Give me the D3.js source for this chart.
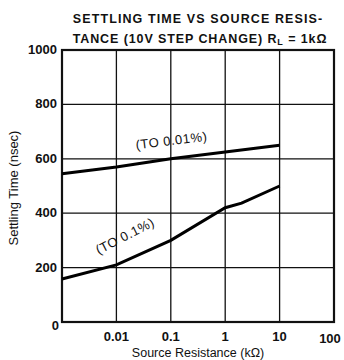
<!DOCTYPE html>
<html>
<head>
<meta charset="utf-8">
<script src="https://cdn.jsdelivr.net/npm/d3@7"></script>
<style>
  body { margin: 0; background: #fff; }
  svg { font-family: "Liberation Sans", Arial, sans-serif; }
</style>
</head>
<body>
<svg id="svg"></svg>
<script>
// data
var resistance = [0.001, 0.01, 0.1, 1, 10];
var settle001 = [545, 570, 600, 625, 650];      // to 0.01%
var res01 = [0.001, 0.01, 0.1, 1, 2, 10];
var settle01 = [158, 210, 300, 420, 437, 500];  // to 0.1%
var xTicks = [0.01, 0.1, 1, 10, 100];
var xTickLabels = ['0.01', '0.1', '1', '10', '100'];
var yTicks = [0, 200, 400, 600, 800, 1000];

var width = 344, height = 360;
var svg = d3.select('#svg').attr('width', width).attr('height', height);

var x = d3.scaleLog().domain([0.001, 100]).range([62, 334]);
var y = d3.scaleLinear().domain([0, 1000]).range([322, 50]);

// grid
var grid = svg.append('g').attr('stroke', '#111').attr('stroke-width', 1.3);
xTicks.forEach(function (t) {
  grid.append('line').attr('x1', x(t)).attr('x2', x(t)).attr('y1', y(0)).attr('y2', y(1000));
});
yTicks.forEach(function (t) {
  grid.append('line').attr('x1', x(0.001)).attr('x2', x(100)).attr('y1', y(t)).attr('y2', y(t));
});
svg.append('rect')
  .attr('x', x(0.001)).attr('y', y(1000))
  .attr('width', x(100) - x(0.001)).attr('height', y(0) - y(1000))
  .attr('fill', 'none').attr('stroke', '#111').attr('stroke-width', 2.2);

// tick labels
svg.selectAll('.yl').data(yTicks).enter().append('text')
  .attr('x', function (d) { return d === 0 ? 59 : 57; })
  .attr('y', function (d) { return y(d) + (d === 0 ? 8 : 4); })
  .attr('text-anchor', 'end')
  .attr('font-size', 13).attr('font-weight', 'bold').attr('fill', '#111')
  .text(function (d) { return d; });

svg.selectAll('.xl').data(xTicks).enter().append('text')
  .attr('x', function (d) { return x(d) - (d === 100 ? 4 : 0); })
  .attr('y', function (d) { return d === 100 ? 343 : 341; })
  .attr('text-anchor', 'middle')
  .attr('font-size', 13).attr('font-weight', 'bold').attr('fill', '#111')
  .text(function (d, i) { return xTickLabels[i]; });

// curves
var line1 = d3.line().x(function (d, i) { return x(resistance[i]); }).y(function (d) { return y(d); });
var line2 = d3.line().x(function (d, i) { return x(res01[i]); }).y(function (d) { return y(d); });
svg.append('path').attr('d', line1(settle001)).attr('fill', 'none').attr('stroke', '#000').attr('stroke-width', 3);
svg.append('path').attr('d', line2(settle01)).attr('fill', 'none').attr('stroke', '#000').attr('stroke-width', 3);

// curve labels
svg.append('text').attr('transform', 'translate(172,145) rotate(-7)')
  .attr('text-anchor', 'middle').attr('font-size', 13).attr('letter-spacing', 0.5).attr('fill', '#111')
  .text('(TO 0.01%)');
svg.append('text').attr('transform', 'translate(127,240) rotate(-27)')
  .attr('text-anchor', 'middle').attr('font-size', 13).attr('letter-spacing', 0.5).attr('fill', '#111')
  .text('(TO 0.1%)');

// title
svg.append('text').attr('x', 198).attr('y', 23).attr('text-anchor', 'middle')
  .attr('font-size', 12.5).attr('font-weight', 'bold').attr('letter-spacing', 1.1).attr('fill', '#111')
  .text('SETTLING TIME VS SOURCE RESIS-');
var t2 = svg.append('text').attr('x', 200).attr('y', 43).attr('text-anchor', 'middle')
  .attr('font-size', 12.5).attr('font-weight', 'bold').attr('letter-spacing', 0.9).attr('fill', '#111');
t2.append('tspan').text('TANCE (10V STEP CHANGE) R');
t2.append('tspan').attr('font-size', 9).attr('dy', 2).text('L');
t2.append('tspan').attr('dy', -2).text(' = 1k\u03A9');

// axis titles
svg.append('text').attr('transform', 'translate(18,188) rotate(-90)')
  .attr('text-anchor', 'middle').attr('font-size', 13).attr('fill', '#111')
  .text('Settling Time (nsec)');
svg.append('text').attr('x', 198).attr('y', 357).attr('text-anchor', 'middle')
  .attr('font-size', 12.5).attr('fill', '#111')
  .text('Source Resistance (k\u03A9)');
</script>
</body>
</html>
